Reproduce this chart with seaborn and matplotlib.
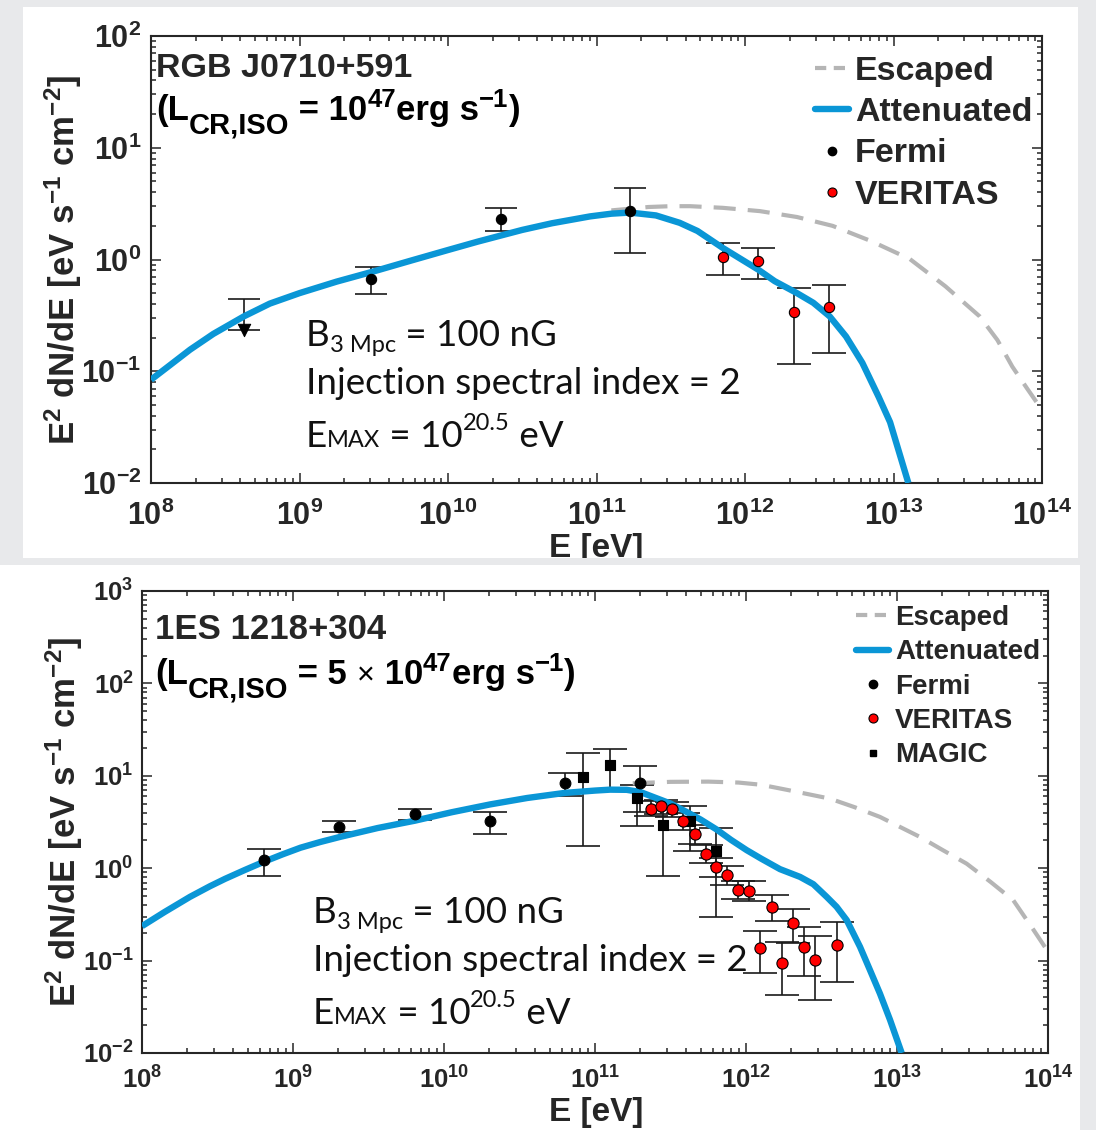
import matplotlib
matplotlib.use("Agg")
import matplotlib.pyplot as plt
import matplotlib.ticker as mticker
from matplotlib.lines import Line2D
from matplotlib.patches import Rectangle
import numpy as np
import seaborn as sns

# energies are stored as log10(E / eV), fluxes as E^2 dN/dE [eV s^-1 cm^-2]

# ---- RGB J0710+591 (top panel) ----
rgb_fermi_loge = [9.483, 10.357, 11.228]
rgb_fermi_flux = [0.67, 2.32, 2.71]
rgb_fermi_lo = [0.49, 1.81, 1.14]
rgb_fermi_hi = [0.853, 2.89, 4.33]

rgb_ul_loge = [8.626]
rgb_ul_flux = [0.235]
rgb_ul_hi = [0.447]

rgb_veritas_loge = [11.852, 12.09, 12.328, 12.564]
rgb_veritas_flux = [1.06, 0.97, 0.336, 0.372]
rgb_veritas_lo = [0.73, 0.67, 0.117, 0.146]
rgb_veritas_hi = [1.41, 1.28, 0.557, 0.589]

rgb_att_loge = [8.0, 8.13, 8.263, 8.42, 8.626, 8.8, 9.0, 9.25, 9.49, 9.75, 10.0, 10.2, 10.357,
                10.5, 10.7, 10.956, 11.1, 11.226, 11.4, 11.56, 11.68, 11.85, 12.09, 12.2,
                12.35, 12.46, 12.57, 12.68, 12.79, 12.9, 12.977, 13.1]
rgb_att_flux = [0.084, 0.114, 0.156, 0.216, 0.31, 0.403, 0.50, 0.634, 0.776, 0.977, 1.216, 1.445, 1.64,
                1.84, 2.11, 2.43, 2.57, 2.63, 2.48, 2.13, 1.8, 1.27, 0.81, 0.64,
                0.50, 0.41, 0.31, 0.205, 0.119, 0.059, 0.035, 0.01]

rgb_esc_loge = [11.1, 11.35, 11.5, 11.63, 11.85, 12.1, 12.35, 12.59, 12.85, 13.11, 13.35,
                13.58, 13.7, 13.8, 13.9, 14.0]
rgb_esc_flux = [2.75, 2.95, 3.0, 3.0, 2.9, 2.71, 2.4, 2.0, 1.46, 1.01, 0.575,
                0.31, 0.19, 0.11, 0.07, 0.045]

# ---- 1ES 1218+304 (bottom panel) ----
es_fermi_loge = [8.808, 9.305, 9.806, 10.305, 10.80, 11.298]
es_fermi_flux = [1.24, 2.8, 3.9, 3.22, 8.4, 8.4]
es_fermi_lo = [0.826, 2.45, 3.36, 2.35, 6.0, 4.06]
es_fermi_hi = [1.63, 3.22, 4.41, 4.06, 10.8, 12.7]

es_magic_loge = [10.923, 11.099, 11.276, 11.448, 11.629, 11.80]
es_magic_flux = [9.7, 13.2, 5.76, 2.97, 3.22, 1.53]
es_magic_lo = [1.73, 7.1, 2.84, 0.83, 1.54, 0.30]
es_magic_hi = [17.8, 19.3, 8.0, 4.5, 4.67, 2.75]

es_veritas_loge = [11.369, 11.437, 11.512, 11.585, 11.662, 11.735, 11.803, 11.872, 11.949,
                   12.022, 12.095, 12.17, 12.238, 12.309, 12.384, 12.459, 12.603]
es_veritas_flux = [4.42, 4.72, 4.42, 3.22, 2.33, 1.44, 1.03, 0.84, 0.578,
                   0.56, 0.137, 0.376, 0.095, 0.256, 0.139, 0.101, 0.146]
es_veritas_lo = [3.7, 3.9, 3.6, 2.6, 1.85, 1.15, 0.8, 0.66, 0.46,
                 0.44, 0.074, 0.27, 0.042, 0.155, 0.068, 0.037, 0.059]
es_veritas_hi = [5.3, 5.5, 5.2, 4.0, 2.9, 1.8, 1.3, 1.05, 0.72,
                 0.72, 0.21, 0.51, 0.16, 0.366, 0.232, 0.184, 0.26]

es_att_loge = [8.0, 8.15, 8.318, 8.45, 8.55, 8.68, 8.808, 8.93, 9.05, 9.18, 9.311, 9.56, 9.808,
               10.05, 10.305, 10.55, 10.8, 11.0, 11.1, 11.21, 11.3, 11.386, 11.5, 11.607, 11.7,
               11.806, 11.9, 12.004, 12.1, 12.225, 12.358, 12.446, 12.534, 12.6, 12.667, 12.755,
               12.821, 12.887, 12.954, 13.031]
es_att_flux = [0.236, 0.336, 0.49, 0.638, 0.767, 0.955, 1.175, 1.41, 1.667, 1.92, 2.18, 2.72, 3.27,
               4.03, 4.90, 5.75, 6.53, 6.92, 7.08, 7.05, 6.68, 5.90, 5.01, 4.06, 3.36,
               2.62, 2.03, 1.57, 1.27, 0.977, 0.805, 0.671, 0.49, 0.382, 0.274, 0.141,
               0.079, 0.044, 0.0228, 0.01]

es_esc_loge = [11.25, 11.5, 11.75, 11.95, 12.1, 12.28, 12.556, 12.72, 12.887, 13.152, 13.3,
               13.461, 13.62, 13.77, 13.9, 14.0]
es_esc_flux = [8.3, 8.6, 8.65, 8.45, 8.0, 7.0, 5.66, 4.57, 3.59, 2.18, 1.58,
               1.12, 0.71, 0.45, 0.22, 0.125]

BLUE = "#0a96d6"
GRAY = "#b5b5b5"
BG = "#e8e9eb"
W, H = 1096, 1130
SANS = ["Liberation Sans", "DejaVu Sans"]
GILL = ["Lato", "DejaVu Sans"]

sns.set_style("ticks")
plt.rcParams["font.family"] = SANS
plt.rcParams["font.weight"] = "bold"
plt.rcParams["mathtext.fontset"] = "dejavusans"


def fx(px):
    return px / W


def fy(py):
    return 1 - py / H


def draw_points(ax, loge, flux, lo, hi, marker, face, size, cap):
    x = np.power(10.0, loge)
    y = np.asarray(flux)
    err = [y - np.asarray(lo), np.asarray(hi) - y]
    ax.errorbar(x, y, yerr=err, fmt="none", ecolor="#1a1a1a", elinewidth=1.2,
                capsize=cap, capthick=1.2, zorder=2)
    sns.scatterplot(x=x, y=y, ax=ax, marker=marker, s=size, color=face,
                    edgecolor="black", linewidth=0.8, zorder=5, legend=False)


def draw_curves(ax, att_loge, att_flux, esc_loge, esc_flux):
    sns.lineplot(x=np.power(10.0, esc_loge), y=esc_flux, ax=ax, color=GRAY, lw=3,
                 linestyle="--", estimator=None, sort=False, zorder=3)
    ax.lines[-1].set_dashes((5.3, 2.9))
    sns.lineplot(x=np.power(10.0, att_loge), y=att_flux, ax=ax, color=BLUE, lw=4.6,
                 estimator=None, sort=False, zorder=4)
    ax.lines[-1].set_solid_capstyle("butt")
    ax.lines[-1].set_solid_joinstyle("round")


def style_axes(ax, ymax_exp, tick_size, xpad, ypad):
    ax.set_xscale("log")
    ax.set_yscale("log")
    ax.set_xlim(1e8, 1e14)
    ax.set_ylim(1e-2, 10.0 ** ymax_exp)
    fmt = mticker.FuncFormatter(lambda v, p: r"$\mathregular{10^{%d}}$" % round(np.log10(v)))
    for axis, lo_exp, hi_exp in ((ax.xaxis, 8, 14), (ax.yaxis, -2, ymax_exp)):
        decades = 10.0 ** np.arange(lo_exp, hi_exp + 1)
        minors = np.concatenate([d * np.arange(2, 10) for d in decades[:-1]])
        axis.set_major_locator(mticker.FixedLocator(decades))
        axis.set_minor_locator(mticker.FixedLocator(minors))
        axis.set_major_formatter(fmt)
        axis.set_minor_formatter(mticker.NullFormatter())
    ax.tick_params(which="both", direction="in", top=True, right=True, width=1.1,
                   labelsize=tick_size)
    ax.tick_params(axis="x", which="major", pad=xpad)
    ax.tick_params(axis="y", which="major", pad=ypad)
    ax.tick_params(which="major", length=7)
    ax.tick_params(which="minor", length=3.5)
    for s in ax.spines.values():
        s.set_linewidth(1.5)
    ax.set_xlabel("")
    ax.set_ylabel("")


def draw_runs(fig, x, y, runs, family, weight, color="black"):
    renderer = fig.canvas.get_renderer()
    for run in runs:
        text, size, rise = run[:3]
        w = run[3] if len(run) > 3 else weight
        t = fig.text(fx(x), fy(y - rise), text, fontsize=size, va="baseline", ha="left",
                     family=family, fontweight=w, color=color)
        x += t.get_window_extent(renderer).width


def draw_params(fig, x, y0, step):
    kw = dict(family=GILL, weight="normal", color="#111111")
    draw_runs(fig, x, y0, [("B", 26.5, 0), ("3 Mpc", 17, -6), (" = 100 nG", 26.5, 0)], **kw)
    draw_runs(fig, x, y0 + step, [("Injection spectral index = 2", 26.5, 0)], **kw)
    draw_runs(fig, x, y0 + 2 * step + 5, [("E", 26.5, 0), ("MAX", 17, 0), (" = 10", 26.5, 0),
                                          ("20.5", 17, 17), (" eV", 26.5, 0)], **kw)


fig = plt.figure(figsize=(W / 100, H / 100), dpi=100, facecolor=BG)
fig.add_artist(Rectangle((fx(23), fy(558)), fx(1078) - fx(23), (558 - 7) / H,
                         transform=fig.transFigure, facecolor="white", edgecolor="none", zorder=-5))
fig.add_artist(Rectangle((0, 0), fx(1080), (H - 565) / H,
                         transform=fig.transFigure, facecolor="white", edgecolor="none", zorder=-5))

ax1 = fig.add_axes([fx(151), fy(483), (1042 - 151) / W, (483 - 36) / H])
ax2 = fig.add_axes([fx(142), fy(1053), (1048 - 142) / W, (1053 - 591) / H])

# top panel
draw_curves(ax1, rgb_att_loge, rgb_att_flux, rgb_esc_loge, rgb_esc_flux)
draw_points(ax1, rgb_fermi_loge, rgb_fermi_flux, rgb_fermi_lo, rgb_fermi_hi, "o", "black", 55, 11.5)
ul_x = np.power(10.0, rgb_ul_loge)
ul_y = np.asarray(rgb_ul_flux)
ax1.errorbar(ul_x, ul_y, yerr=[np.zeros_like(ul_y), np.asarray(rgb_ul_hi) - ul_y], fmt="none",
             ecolor="#1a1a1a", elinewidth=1.2, capsize=11.5, capthick=1.2, zorder=2)
sns.scatterplot(x=ul_x, y=ul_y, ax=ax1, marker="v", s=80, color="black", edgecolor="black",
                zorder=5, legend=False)
draw_points(ax1, rgb_veritas_loge, rgb_veritas_flux, rgb_veritas_lo, rgb_veritas_hi, "o", "red", 55, 12.5)
style_axes(ax1, 2, 22, 13, 7)

# bottom panel
draw_curves(ax2, es_att_loge, es_att_flux, es_esc_loge, es_esc_flux)
draw_points(ax2, es_fermi_loge, es_fermi_flux, es_fermi_lo, es_fermi_hi, "o", "black", 60, 12)
draw_points(ax2, es_magic_loge, es_magic_flux, es_magic_lo, es_magic_hi, "s", "black", 48, 12)
draw_points(ax2, es_veritas_loge, es_veritas_flux, es_veritas_lo, es_veritas_hi, "o", "red", 65, 12.5)
style_axes(ax2, 3, 18.5, 10, 6)


# legends
def make_handles(with_magic):
    h = [Line2D([], [], color=GRAY, lw=3, dashes=(2.7, 1.8)),
         Line2D([], [], color=BLUE, lw=4.6),
         Line2D([], [], ls="none", marker="o", color="black", ms=6),
         Line2D([], [], ls="none", marker="o", mfc="red", mec="black", mew=0.8, ms=6.5)]
    labels = ["Escaped", "Attenuated", "Fermi", "VERITAS"]
    if with_magic:
        h.append(Line2D([], [], ls="none", marker="s", color="black", ms=5))
        labels.append("MAGIC")
    return h, labels


h, l = make_handles(False)
ax1.legend(h, l, loc="upper left", bbox_to_anchor=(fx(815), fy(56)), bbox_transform=fig.transFigure,
           frameon=False, fontsize=24.5, handlelength=1.0, handletextpad=0.18, labelspacing=0.3,
           borderpad=0, borderaxespad=0)
h, l = make_handles(True)
ax2.legend(h, l, loc="upper left", bbox_to_anchor=(fx(856), fy(605)), bbox_transform=fig.transFigure,
           frameon=False, fontsize=20, handlelength=1.2, handletextpad=0.2, labelspacing=0.3,
           borderpad=0, borderaxespad=0)

# titles
bold = dict(family=SANS, weight="bold")
fig.text(fx(156), fy(77), "RGB J0710+591", fontsize=24.5, va="baseline")
draw_runs(fig, 156, 120, [("(L", 25, 0), ("CR,ISO", 21, -14), (" = 10", 25, 0),
                          ("47", 18.5, 13), ("erg s", 25, 0), ("\u22121", 18.5, 13), (")", 25, 0)],
          **bold)
fig.text(fx(155), fy(639), "1ES 1218+304", fontsize=25, va="baseline")
draw_runs(fig, 155, 684, [("(L", 25, 0), ("CR,ISO", 21, -14), (" = 5 ", 25, 0), ("\u00d7", 22, 0, "normal"),
                          (" 10", 25, 0), ("47", 18.5, 13), ("erg s", 25, 0), ("\u22121", 18.5, 13),
                          (")", 25, 0)], **bold)

# axis labels
ylab = r"E$\mathregular{^{2}}$ dN/dE [eV s$\mathregular{^{-1}}$ cm$\mathregular{^{-2}}$]"
fig.text(fx(63), fy(260), ylab, rotation=90, ha="center", va="center", fontsize=25)
fig.text(fx(64), fy(822), ylab, rotation=90, ha="center", va="center", fontsize=25)
fig.text(fx(596), fy(557), "E [eV]", ha="center", va="baseline", fontsize=24)
fig.text(fx(596), fy(1121), "E [eV]", ha="center", va="baseline", fontsize=24)

# grey gap between the two panels (hides the clipped label bottom like the original)
fig.add_artist(Rectangle((0, fy(565)), 1, (565 - 558) / H, transform=fig.transFigure,
                         facecolor=BG, edgecolor="none", zorder=10))

draw_params(fig, 306, 346, 48)
draw_params(fig, 313, 923, 48)

fig.savefig("out.png", dpi=100, facecolor=BG)
